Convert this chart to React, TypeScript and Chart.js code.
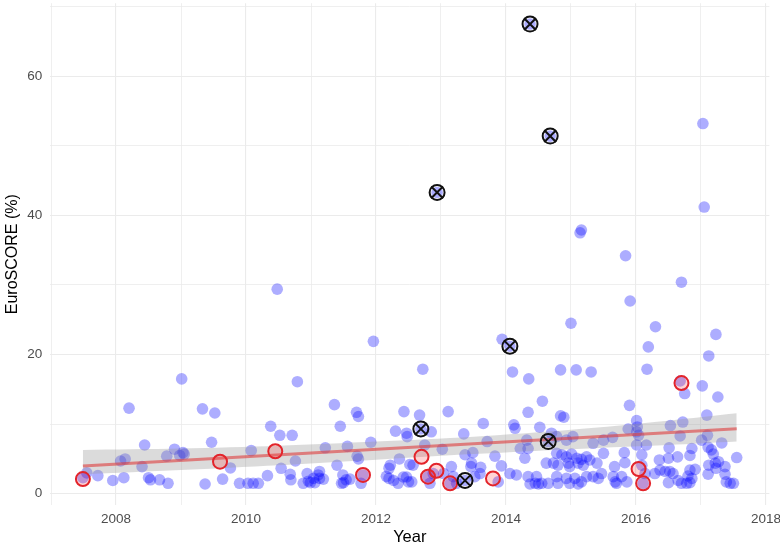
import React, { useEffect, useRef } from 'react';
import { Chart, registerables } from 'chart.js';

Chart.register(...registerables);

// ---- axis ticks ----
const xTicks = [2007, 2008, 2009, 2010, 2011, 2012, 2013, 2014, 2015, 2016, 2017, 2018];
const xLabelled = [2008, 2010, 2012, 2014, 2016, 2018];
const yTicks = [0, 10, 20, 30, 40, 50, 60, 70];
const yLabelled = [0, 20, 40, 60];

// ---- all cases (blue points) ----
const blueYear = [
  2007.49, 2007.55, 2007.72, 2007.95, 2008.12, 2008.07, 2008.14, 2008.2, 2008.4, 2008.44,
  2008.5, 2008.53, 2008.67, 2008.8, 2008.78, 2008.9, 2008.98, 2009.03, 2009.05, 2009.01,
  2009.33, 2009.37, 2009.47, 2009.52, 2009.64, 2009.76, 2009.9, 2010.03, 2010.11, 2010.19,
  2010.08, 2010.33, 2010.38, 2010.48, 2010.52, 2010.54, 2010.68, 2010.69, 2010.71, 2010.76,
  2010.79, 2010.88, 2010.94, 2010.96, 2010.99, 2011.04, 2011.06, 2011.11, 2011.13, 2011.13,
  2011.19, 2011.22, 2011.36, 2011.4, 2011.45, 2011.47, 2011.49, 2011.5, 2011.54, 2011.56,
  2011.6, 2011.7, 2011.73, 2011.71, 2011.73, 2011.77, 2011.8, 2011.92, 2011.96, 2012.16,
  2012.2, 2012.2, 2012.22, 2012.27, 2012.3, 2012.34, 2012.36, 2012.42, 2012.43, 2012.47,
  2012.48, 2012.47, 2012.5, 2012.52, 2012.55, 2012.57, 2012.67, 2012.69, 2012.72, 2012.75,
  2012.8, 2012.83, 2012.85, 2012.88, 2012.94, 2013.02, 2013.04, 2013.11, 2013.14, 2013.16,
  2013.19, 2013.24, 2013.35, 2013.37, 2013.37, 2013.46, 2013.47, 2013.49, 2013.52, 2013.6,
  2013.61, 2013.65, 2013.71, 2013.83, 2013.88, 2013.93, 2013.94, 2014.06, 2014.06, 2014.1,
  2014.12, 2014.14, 2014.16, 2014.22, 2014.29, 2014.32, 2014.34, 2014.34, 2014.34, 2014.35,
  2014.37, 2014.37, 2014.45, 2014.47, 2014.5, 2014.52, 2014.55, 2014.56, 2014.62, 2014.65,
  2014.65, 2014.68, 2014.7, 2014.73, 2014.78, 2014.78, 2014.78, 2014.8, 2014.8, 2014.84,
  2014.84, 2014.86, 2014.89, 2014.93, 2014.93, 2014.93, 2014.96, 2014.98, 2014.98, 2015.0,
  2015.01, 2015.03, 2015.06, 2015.08, 2015.09, 2015.11, 2015.11, 2015.14, 2015.16, 2015.16,
  2015.16, 2015.19, 2015.24, 2015.24, 2015.29, 2015.31, 2015.34, 2015.34, 2015.4, 2015.42,
  2015.47, 2015.5, 2015.5, 2015.64, 2015.65, 2015.67, 2015.68, 2015.7, 2015.78, 2015.82,
  2015.83, 2015.84, 2015.86, 2015.88, 2015.9, 2015.91, 2016.01, 2016.02, 2016.01, 2016.04,
  2016.01, 2016.09, 2016.09, 2016.11, 2016.14, 2016.16, 2016.19, 2016.17, 2016.3, 2016.29,
  2016.36, 2016.37, 2016.45, 2016.5, 2016.5, 2016.51, 2016.52, 2016.53, 2016.57, 2016.64,
  2016.65, 2016.68, 2016.68, 2016.7, 2016.7, 2016.72, 2016.75, 2016.78, 2016.8, 2016.83,
  2016.83, 2016.83, 2016.86, 2016.86, 2016.91, 2017.01, 2017.02, 2017.05, 2017.03, 2017.09,
  2017.1, 2017.11, 2017.11, 2017.12, 2017.12, 2017.16, 2017.19, 2017.22, 2017.23, 2017.23,
  2017.26, 2017.27, 2017.32, 2017.37, 2017.37, 2017.39, 2017.45, 2017.5, 2017.55,
];
const blueScore = [
  2.3, 3.0, 2.6, 1.9, 2.3, 4.7, 5.0, 12.3, 3.9, 7.0,
  2.3, 2.0, 2.0, 1.5, 5.4, 6.4, 5.5, 5.9, 5.7, 16.5,
  12.2, 1.4, 7.4, 11.6, 2.1, 3.7, 1.5, 1.5, 1.5, 1.5,
  6.2, 2.6, 9.7, 29.4, 8.4, 3.65, 2.8, 2.0, 8.4, 4.7,
  16.1, 1.5, 2.9, 1.8, 1.6, 2.2, 1.6, 2.7, 3.2, 2.2,
  2.1, 6.6, 12.8, 4.1, 9.7, 1.5, 2.7, 1.6, 2.0, 6.8,
  2.1, 11.7, 11.1, 5.4, 5.0, 1.5, 2.7, 7.4, 21.9, 2.5,
  2.2, 3.65, 4.1, 1.9, 9.0, 1.5, 5.0, 2.4, 11.8, 8.7,
  8.2, 2.4, 1.7, 4.2, 1.7, 4.1, 11.3, 9.3, 17.9, 7.0,
  2.45, 1.5, 8.9, 2.9, 43.3, 6.4, 2.9, 11.8, 1.5, 3.9,
  2.45, 1.5, 8.6, 5.6, 1.9, 3.9, 4.4, 5.9, 2.45, 2.9,
  3.8, 10.1, 7.5, 5.4, 1.7, 4.0, 22.2, 21.2, 2.9, 17.5,
  9.9, 9.4, 2.7, 6.5, 5.1, 7.7, 6.5, 11.7, 2.45, 16.5,
  1.4, 67.5, 1.5, 2.45, 1.4, 9.55, 1.5, 13.3, 4.4, 7.5,
  1.5, 51.4, 8.7, 4.4, 5.8, 8.2, 2.45, 4.1, 1.5, 17.8,
  11.2, 5.6, 11.0, 7.7, 5.3, 2.2, 4.4, 3.9, 1.5, 24.5,
  5.7, 8.2, 2.2, 17.8, 5.1, 4.4, 1.4, 37.5, 37.9, 4.95,
  1.7, 4.1, 5.3, 2.45, 4.85, 17.5, 7.25, 2.45, 4.4, 2.2,
  2.9, 7.7, 5.8, 8.1, 2.45, 3.9, 1.7, 1.5, 2.45, 5.9,
  4.45, 34.2, 1.7, 9.3, 12.7, 27.7, 10.5, 9.6, 8.9, 8.4,
  7.0, 5.6, 4.1, 1.5, 2.9, 7.0, 21.1, 17.9, 24.0, 2.9,
  4.85, 3.4, 3.2, 5.1, 1.6, 6.6, 3.2, 9.8, 2.9, 5.3,
  1.9, 8.3, 16.2, 30.4, 1.5, 10.3, 14.4, 1.5, 2.55, 5.5,
  3.4, 1.6, 6.5, 2.2, 3.5, 7.7, 15.5, 41.2, 53.2, 11.3,
  8.4, 6.7, 2.8, 19.8, 4.1, 6.3, 5.7, 4.4, 3.65, 22.9,
  13.9, 4.6, 7.3, 3.9, 2.8, 1.7, 1.5, 1.5, 5.2,
];

// ---- highlighted cases (red open circles) ----
const redYear = [2007.49, 2009.6, 2010.45, 2011.8, 2012.7, 2012.8, 2012.93, 2013.14, 2013.8, 2016.04, 2016.11, 2016.7];
const redScore = [2.1, 4.6, 6.1, 2.7, 5.3, 2.45, 3.3, 1.5, 2.2, 3.55, 1.5, 15.9];

// ---- excluded cases (circle with cross) ----
const crossYear = [2014.37, 2014.68, 2012.94, 2014.06, 2012.69, 2014.65, 2013.37];
const crossScore = [67.5, 51.4, 43.3, 21.2, 9.3, 7.5, 1.9];

// ---- linear fit and confidence band ----
const fitYear = [2007.49, 2017.55];
const fitScore = [3.98, 9.35];
const bandYear = [2007.49, 2009, 2010.5, 2012, 2013.5, 2015, 2016.5, 2017.55];
const bandLow = [2.8, 3.4, 4.1, 4.9, 5.7, 6.4, 7.0, 7.5];
const bandHigh = [6.3, 6.5, 6.9, 7.5, 8.2, 9.2, 10.5, 11.55];

const FONT = "'Liberation Sans', Arial, Helvetica, sans-serif";

const pts = (xs: number[], ys: number[]) => xs.map((x, i) => ({ x, y: ys[i] }));

export default function App() {
  const ref = useRef<HTMLCanvasElement | null>(null);

  useEffect(() => {
    if (!ref.current) return;
    const chart = new Chart(ref.current, {
      type: 'line',
      data: {
        datasets: [
          {
            label: 'cross',
            data: pts(crossYear, crossScore),
            showLine: false,
            pointStyle: 'crossRot',
            pointRadius: 8.3,
            pointBorderWidth: 2,
            pointBorderColor: '#111111',
            pointBackgroundColor: 'rgba(0,0,0,0)',
            order: 0,
          },
          {
            label: 'crossCircle',
            data: pts(crossYear, crossScore),
            showLine: false,
            pointStyle: 'circle',
            pointRadius: 7.5,
            pointBorderWidth: 2,
            pointBorderColor: '#111111',
            pointBackgroundColor: 'rgba(0,0,0,0)',
            order: 1,
          },
          {
            label: 'red',
            data: pts(redYear, redScore),
            showLine: false,
            pointStyle: 'circle',
            pointRadius: 7,
            pointBorderWidth: 2,
            pointBorderColor: '#e3242b',
            pointBackgroundColor: 'rgba(255,40,40,0.2)',
            order: 2,
          },
          {
            label: 'fit',
            data: pts(fitYear, fitScore),
            borderColor: 'rgba(222,60,60,0.6)',
            borderWidth: 3,
            pointRadius: 0,
            fill: false,
            order: 3,
          },
          {
            label: 'bandHigh',
            data: pts(bandYear, bandHigh),
            borderWidth: 0,
            borderColor: 'rgba(0,0,0,0)',
            pointRadius: 0,
            tension: 0.3,
            fill: '+1',
            backgroundColor: 'rgba(153,153,153,0.35)',
            order: 4,
          },
          {
            label: 'bandLow',
            data: pts(bandYear, bandLow),
            borderWidth: 0,
            borderColor: 'rgba(0,0,0,0)',
            pointRadius: 0,
            tension: 0.3,
            fill: false,
            order: 5,
          },
          {
            label: 'cases',
            data: pts(blueYear, blueScore),
            showLine: false,
            pointStyle: 'circle',
            pointRadius: 5.8,
            pointBorderWidth: 0,
            pointBackgroundColor: 'rgba(0,0,255,0.32)',
            order: 6,
          },
        ],
      },
      options: {
        responsive: false,
        animation: false,
        events: [],
        layout: { autoPadding: false, padding: { top: 3.2, right: 10.6, bottom: 0, left: 0 } },
        plugins: { legend: { display: false }, tooltip: { enabled: false } },
        scales: {
          x: {
            type: 'linear',
            min: 2006.987,
            max: 2018.053,
            afterBuildTicks: (s: any) => {
              s.ticks = xTicks.map((v) => ({ value: v }));
            },
            afterFit: (s: any) => {
              s.height = 41.8;
              s.paddingLeft = 0;
              s.paddingRight = 0;
              s.paddingTop = 0;
              s.paddingBottom = 0;
            },
            border: { display: false },
            grid: {
              drawTicks: false,
              color: '#ebebeb',
              lineWidth: (c: any) => (xLabelled.includes(c.tick?.value) ? 1.1 : 0.8),
            },
            ticks: {
              autoSkip: false,
              maxRotation: 0,
              padding: 6.2,
              color: '#4d4d4d',
              font: { family: FONT, size: 13.5 },
              callback: (v: any) => (xLabelled.includes(Number(v)) ? String(v) : ''),
            },
            title: {
              display: true,
              text: 'Year',
              color: '#000000',
              font: { family: FONT, size: 16.5 },
              padding: { top: 0, bottom: 0 },
            },
          },
          y: {
            type: 'linear',
            min: -1.65,
            max: 70.5,
            afterBuildTicks: (s: any) => {
              s.ticks = yTicks.map((v) => ({ value: v }));
            },
            afterFit: (s: any) => {
              s.width = 50.2;
              s.paddingTop = 0;
              s.paddingBottom = 0;
              s.paddingLeft = 0;
              s.paddingRight = 0;
            },
            border: { display: false },
            grid: {
              drawTicks: false,
              color: '#ebebeb',
              lineWidth: (c: any) => (yLabelled.includes(c.tick?.value) ? 1.1 : 0.8),
            },
            ticks: {
              autoSkip: false,
              padding: 8,
              color: '#4d4d4d',
              font: { family: FONT, size: 13.5 },
              callback: (v: any) => (yLabelled.includes(Number(v)) ? String(v) : ''),
            },
            title: {
              display: true,
              text: 'EuroSCORE (%)',
              color: '#000000',
              font: { family: FONT, size: 16 },
              padding: { top: 3, bottom: 0 },
            },
          },
        },
      },
    } as any);
    return () => chart.destroy();
  }, []);

  return (
    <div style={{ position: 'fixed', left: 0, top: 0, width: 780, height: 547, background: '#ffffff' }}>
      <canvas ref={ref} width={780} height={547} style={{ display: 'block' }} />
    </div>
  );
}
